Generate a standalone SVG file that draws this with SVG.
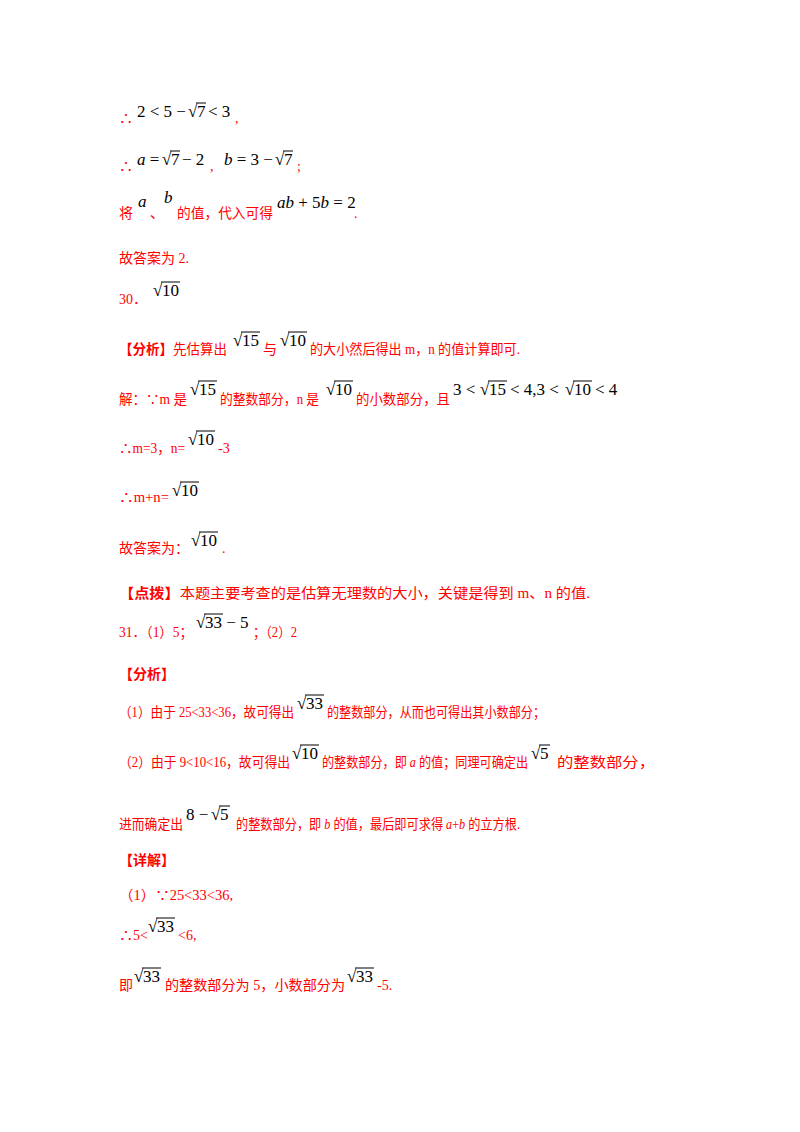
<svg xmlns="http://www.w3.org/2000/svg" width="800" height="1132" viewBox="0 0 800 1132">
<style>
.r{fill:#f00;font-family:"Liberation Serif","Noto Sans CJK SC",serif;font-size:14px}
.b{font-weight:bold}
.m{fill:#000;font-family:"Liberation Serif",serif;font-size:17px}
.i{font-style:italic}
.o{stroke:#000;stroke-width:1}
</style>
<rect width="800" height="1132" fill="#fff"/>
<g id="text">
<text class="r" x="119" y="123">∴</text>
<text class="m" x="137" y="117">2 &lt; 5 −</text>
<text class="m" x="188" y="117">√</text><text class="m" x="197" y="117">7</text><line class="o" x1="196" y1="103" x2="206" y2="103"/>
<text class="m" x="208" y="117">&lt; 3</text>
<text class="r" x="235" y="123">,</text>

<text class="r" x="119" y="171">∴</text>
<text class="m" x="137" y="165"><tspan class="i">a</tspan> =</text>
<text class="m" x="162" y="165">√</text><text class="m" x="171" y="165">7</text><line class="o" x1="170" y1="151" x2="180" y2="151"/>
<text class="m" x="182" y="165">− 2</text>
<text class="r" x="210" y="171">,</text>
<text class="m" x="224" y="165"><tspan class="i">b</tspan> = 3 −</text>
<text class="m" x="275" y="165">√</text><text class="m" x="284" y="165">7</text><line class="o" x1="283" y1="151" x2="293" y2="151"/>
<text class="r" x="297" y="171">;</text>

<text class="r" x="119" y="218">将</text>
<text class="m i" x="138" y="207">a</text>
<text class="r" x="150" y="218">、</text>
<text class="m i" x="164" y="203">b</text>
<text class="r" x="177" y="218" textLength="96" lengthAdjust="spacingAndGlyphs">的值，代入可得</text>
<text class="m" x="277" y="208"><tspan class="i">ab</tspan> + 5<tspan class="i">b</tspan> = 2</text>
<text class="r" x="354" y="218">.</text>

<text class="r" x="119" y="263">故答案为 2.</text>
<text class="r" x="119" y="304">30．</text>
<text class="m" x="153" y="296">√</text><text class="m" x="162" y="296">10</text><line class="o" x1="161" y1="282" x2="180" y2="282"/>

<text class="r" x="119" y="354" textLength="108" lengthAdjust="spacingAndGlyphs"><tspan class="b">【分析】</tspan>先估算出</text>
<text class="m" x="233" y="346">√</text><text class="m" x="242" y="346">15</text><line class="o" x1="241" y1="332" x2="260" y2="332"/>
<text class="r" x="263" y="354">与</text>
<text class="m" x="280" y="346">√</text><text class="m" x="289" y="346">10</text><line class="o" x1="288" y1="332" x2="307" y2="332"/>
<text class="r" x="310" y="354" textLength="210" lengthAdjust="spacingAndGlyphs">的大小然后得出 m，n 的值计算即可.</text>

<text class="r" x="119" y="404" textLength="68" lengthAdjust="spacingAndGlyphs">解：∵m 是</text>
<text class="m" x="190" y="395">√</text><text class="m" x="199" y="395">15</text><line class="o" x1="198" y1="381" x2="217" y2="381"/>
<text class="r" x="220" y="404" textLength="99" lengthAdjust="spacingAndGlyphs">的整数部分，n 是</text>
<text class="m" x="326" y="395">√</text><text class="m" x="335" y="395">10</text><line class="o" x1="334" y1="381" x2="353" y2="381"/>
<text class="r" x="356" y="404" textLength="94" lengthAdjust="spacingAndGlyphs">的小数部分，且</text>
<text class="m" x="453" y="395">3 &lt;</text>
<text class="m" x="480" y="395">√</text><text class="m" x="489" y="395">15</text><line class="o" x1="488" y1="381" x2="507" y2="381"/>
<text class="m" x="510" y="395">&lt; 4,3 &lt;</text>
<text class="m" x="565" y="395">√</text><text class="m" x="574" y="395">10</text><line class="o" x1="573" y1="381" x2="592" y2="381"/>
<text class="m" x="595" y="395">&lt; 4</text>

<text class="r" x="119" y="453" textLength="66" lengthAdjust="spacingAndGlyphs">∴m=3，n=</text>
<text class="m" x="188" y="445">√</text><text class="m" x="197" y="445">10</text><line class="o" x1="196" y1="431" x2="215" y2="431"/>
<text class="r" x="218" y="453">-3</text>

<text class="r" x="119" y="502" textLength="50" lengthAdjust="spacingAndGlyphs">∴m+n=</text>
<text class="m" x="172" y="496">√</text><text class="m" x="181" y="496">10</text><line class="o" x1="180" y1="482" x2="199" y2="482"/>

<text class="r" x="119" y="553">故答案为：</text>
<text class="m" x="191" y="546">√</text><text class="m" x="200" y="546">10</text><line class="o" x1="199" y1="532" x2="218" y2="532"/>
<text class="r" x="222" y="553">.</text>

<text class="r" x="119" y="598" textLength="471" lengthAdjust="spacingAndGlyphs"><tspan class="b">【点拨】</tspan>本题主要考查的是估算无理数的大小，关键是得到 m、n 的值.</text>

<text class="r" x="119" y="637" textLength="74" lengthAdjust="spacingAndGlyphs">31．（1）5；</text>
<text class="m" x="196" y="628">√</text><text class="m" x="205" y="628">33 − 5</text><line class="o" x1="204" y1="614" x2="223" y2="614"/>
<text class="r" x="253" y="637" textLength="44" lengthAdjust="spacingAndGlyphs">；（2）2</text>

<text class="r b" x="119" y="679">【分析】</text>

<text class="r" x="119" y="717" textLength="175" lengthAdjust="spacingAndGlyphs">（1）由于 25&lt;33&lt;36，故可得出</text>
<text class="m" x="297" y="709">√</text><text class="m" x="306" y="709">33</text><line class="o" x1="305" y1="695" x2="324" y2="695"/>
<text class="r" x="327" y="717" textLength="218" lengthAdjust="spacingAndGlyphs">的整数部分，从而也可得出其小数部分；</text>

<text class="r" x="119" y="767" textLength="171" lengthAdjust="spacingAndGlyphs">（2）由于 9&lt;10&lt;16，故可得出</text>
<text class="m" x="292" y="759">√</text><text class="m" x="301" y="759">10</text><line class="o" x1="300" y1="745" x2="319" y2="745"/>
<text class="r" x="322" y="767" textLength="206" lengthAdjust="spacingAndGlyphs">的整数部分，即 <tspan class="i">a</tspan> 的值；同理可确定出</text>
<text class="m" x="531" y="759">√</text><text class="m" x="540" y="759">5</text><line class="o" x1="539" y1="745" x2="550" y2="745"/>
<text class="r" x="557" y="767" textLength="98" lengthAdjust="spacingAndGlyphs">的整数部分，</text>

<text class="r" x="119" y="829" textLength="64" lengthAdjust="spacingAndGlyphs">进而确定出</text>
<text class="m" x="186" y="820">8 −</text>
<text class="m" x="211" y="820">√</text><text class="m" x="220" y="820">5</text><line class="o" x1="219" y1="806" x2="230" y2="806"/>
<text class="r" x="236" y="829" textLength="284" lengthAdjust="spacingAndGlyphs">的整数部分，即 <tspan class="i">b</tspan> 的值，最后即可求得 <tspan class="i">a</tspan>+<tspan class="i">b</tspan> 的立方根.</text>

<text class="r b" x="119" y="865">【详解】</text>
<text class="r" x="119" y="900" textLength="114" lengthAdjust="spacingAndGlyphs">（1）∵25&lt;33&lt;36,</text>
<text class="r" x="119" y="940">∴5&lt;</text>
<text class="m" x="148" y="932">√</text><text class="m" x="157" y="932">33</text><line class="o" x1="156" y1="918" x2="175" y2="918"/>
<text class="r" x="178" y="940">&lt;6,</text>
<text class="r" x="119" y="990">即</text>
<text class="m" x="134" y="982">√</text><text class="m" x="143" y="982">33</text><line class="o" x1="142" y1="968" x2="161" y2="968"/>
<text class="r" x="165" y="990" textLength="180" lengthAdjust="spacingAndGlyphs">的整数部分为 5，小数部分为</text>
<text class="m" x="347" y="982">√</text><text class="m" x="356" y="982">33</text><line class="o" x1="355" y1="968" x2="374" y2="968"/>
<text class="r" x="377" y="990">-5.</text>
</g>
</svg>
